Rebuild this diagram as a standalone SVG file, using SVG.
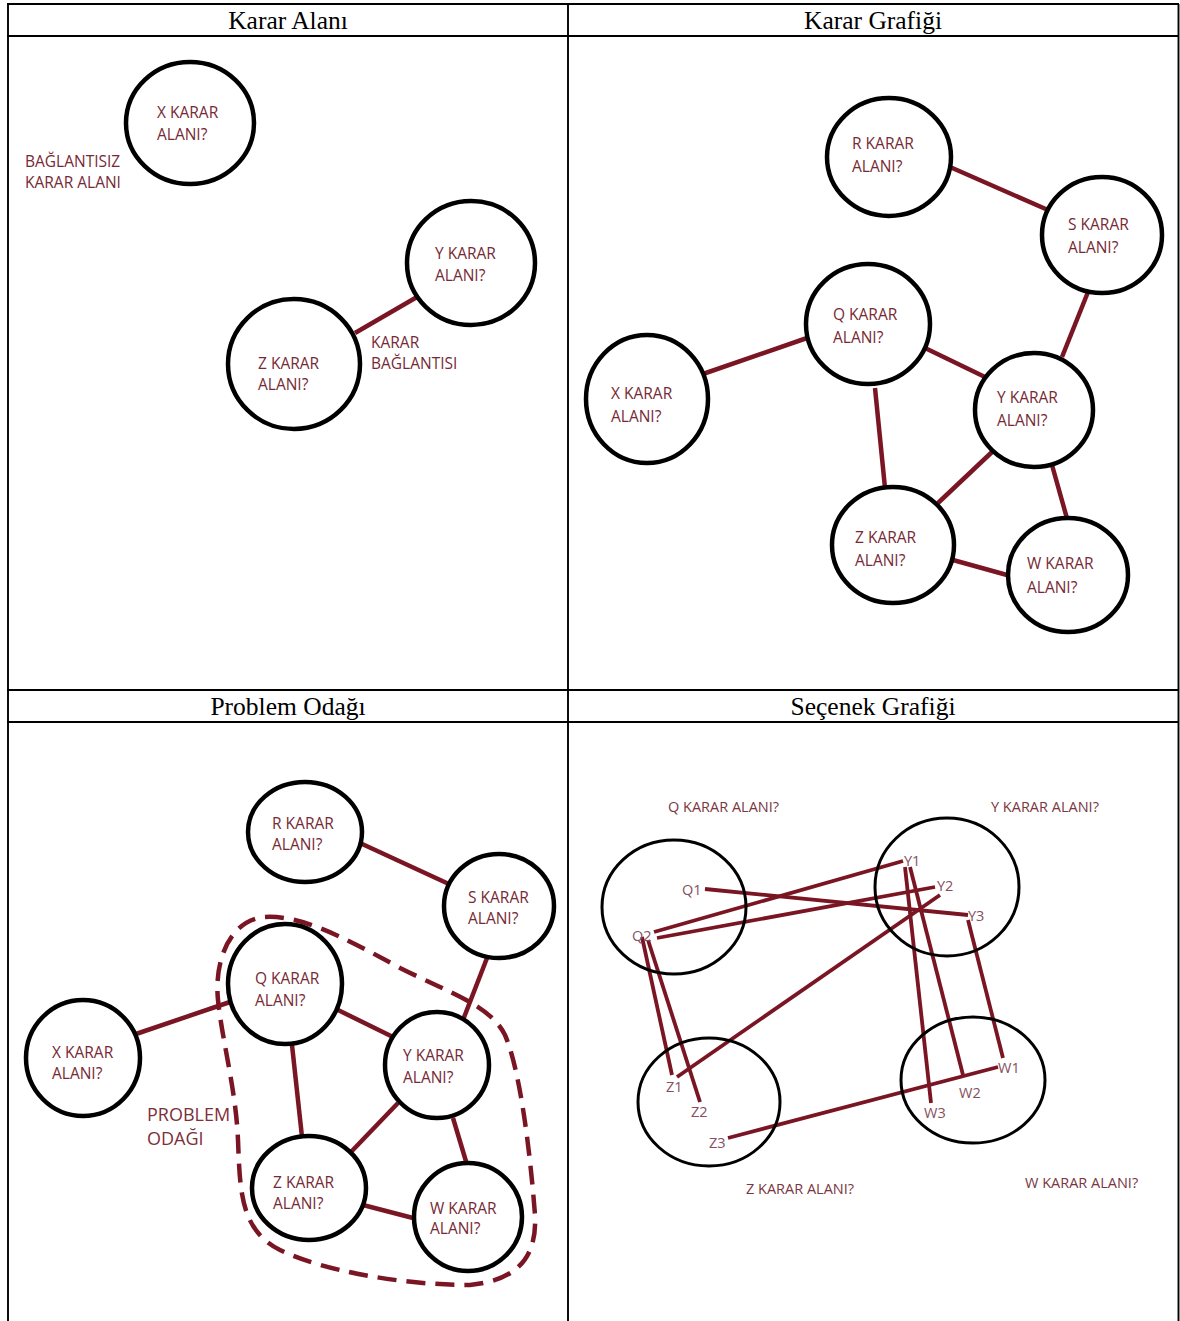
<svg xmlns="http://www.w3.org/2000/svg" width="1180" height="1321" viewBox="0 0 1180 1321">
<style>
.grid{stroke:#000;stroke-width:1.9;fill:none}
.hdr{font-family:"Liberation Serif",serif;font-size:25.5px;fill:#000;text-anchor:middle}
.node{fill:#fff;stroke:#000;stroke-width:4.5}
.node2{fill:none;stroke:#000;stroke-width:3}
.lbl{font-family:"Open Sans","Noto Sans",sans-serif;font-size:15.5px;fill:#762a35}
.big{font-family:"Open Sans","Noto Sans",sans-serif;font-size:18px;fill:#7d2f3a}
.sm{font-family:"Open Sans","Noto Sans",sans-serif;font-size:14.5px;fill:#7a3742}
.pt{font-family:"Open Sans","Noto Sans",sans-serif;font-size:14.5px;fill:#855060}
.edge{stroke:#7a1523;stroke-width:4.5;stroke-linecap:butt;fill:none}
.edge2{stroke:#7a1523;stroke-width:3.8;stroke-linecap:butt;fill:none}
.focus{stroke:#7a1523;stroke-width:4.5;fill:none;stroke-dasharray:19 10}
</style>
<rect width="1180" height="1321" fill="#fff"/>
<g id="table">
<line class="grid" x1="7" y1="4" x2="1179" y2="4"/>
<line class="grid" x1="7" y1="36" x2="1179" y2="36"/>
<line class="grid" x1="7" y1="690" x2="1179" y2="690"/>
<line class="grid" x1="7" y1="722" x2="1179" y2="722"/>
<line class="grid" x1="8" y1="4" x2="8" y2="1321"/>
<line class="grid" x1="568" y1="4" x2="568" y2="1321"/>
<line class="grid" x1="1178.5" y1="4" x2="1178.5" y2="1321"/>
<text class="hdr" x="288" y="29">Karar Alanı</text>
<text class="hdr" x="873" y="29">Karar Grafiği</text>
<text class="hdr" x="288" y="715">Problem Odağı</text>
<text class="hdr" x="873" y="715">Seçenek Grafiği</text>
</g>

<g id="connectors">
<!-- panel 1 -->
<line class="edge" x1="355" y1="333" x2="417" y2="297"/>
<!-- panel 2 -->
<line class="edge" x1="950" y1="167" x2="1048" y2="210"/>
<line class="edge" x1="1088" y1="292" x2="1062" y2="357"/>
<line class="edge" x1="925" y1="348" x2="985" y2="377"/>
<line class="edge" x1="875" y1="388" x2="885" y2="488"/>
<line class="edge" x1="992" y1="452" x2="938" y2="503"/>
<line class="edge" x1="1052" y1="465" x2="1068" y2="522"/>
<line class="edge" x1="953" y1="560" x2="1007" y2="575"/>
<line class="edge" x1="700" y1="375" x2="807" y2="338"/>
<!-- panel 3 -->
<line class="edge" x1="360" y1="843" x2="451" y2="885"/>
<line class="edge" x1="487" y1="958" x2="463" y2="1020"/>
<line class="edge" x1="338" y1="1010" x2="393" y2="1037"/>
<line class="edge" x1="292" y1="1045" x2="302" y2="1137"/>
<line class="edge" x1="398" y1="1103" x2="350" y2="1153"/>
<line class="edge" x1="453" y1="1118" x2="468" y2="1168"/>
<line class="edge" x1="363" y1="1205" x2="413" y2="1218"/>
<line class="edge" x1="133" y1="1035" x2="230" y2="1002"/>
<path class="focus" d="M265,917 C300,915 340,935 400,968 C450,993 490,1005 505,1035 C520,1070 530,1150 535,1215 C537,1255 520,1280 470,1285 C400,1285 320,1270 280,1250 C240,1230 240,1190 238,1140 C236,1090 222,1040 218,1000 C214,960 230,920 265,917 Z"/>
<!-- panel 4 -->
<line class="edge2" x1="705" y1="889" x2="968" y2="915"/>
<line class="edge2" x1="654" y1="932" x2="903" y2="861"/>
<line class="edge2" x1="657" y1="938" x2="935" y2="887"/>
<line class="edge2" x1="642" y1="937" x2="672" y2="1075"/>
<line class="edge2" x1="648" y1="940" x2="700" y2="1102"/>
<line class="edge2" x1="677" y1="1077" x2="940" y2="895"/>
<line class="edge2" x1="728" y1="1138" x2="998" y2="1067"/>
<line class="edge2" x1="905" y1="867" x2="931" y2="1103"/>
<line class="edge2" x1="910" y1="867" x2="963" y2="1075"/>
<line class="edge2" x1="968" y1="920" x2="1003" y2="1058"/>
</g>

<!-- Panel 1: Karar Alanı -->
<g id="p1-x"><ellipse class="node" cx="190" cy="123" rx="64" ry="61"/><text class="lbl" x="157" y="118">X KARAR</text><text class="lbl" x="157" y="140">ALANI?</text></g>
<g id="p1-note"><text class="lbl" x="25" y="167">BAĞLANTISIZ</text><text class="lbl" x="25" y="188">KARAR ALANI</text></g>
<g id="p1-y"><ellipse class="node" cx="471" cy="263" rx="64" ry="62"/><text class="lbl" x="435" y="259">Y KARAR</text><text class="lbl" x="435" y="281">ALANI?</text></g>
<g id="p1-z"><ellipse class="node" cx="294" cy="364" rx="66" ry="65"/><text class="lbl" x="258" y="369">Z KARAR</text><text class="lbl" x="258" y="390">ALANI?</text></g>
<g id="p1-edge-label"><text class="lbl" x="371" y="348">KARAR</text><text class="lbl" x="371" y="369">BAĞLANTISI</text></g>

<!-- Panel 2: Karar Grafiği -->
<g id="p2-r"><ellipse class="node" cx="889" cy="157" rx="62" ry="59"/><text class="lbl" x="852" y="148.5">R KARAR</text><text class="lbl" x="852" y="172">ALANI?</text></g>
<g id="p2-s"><ellipse class="node" cx="1102" cy="235" rx="60" ry="58"/><text class="lbl" x="1068" y="230">S KARAR</text><text class="lbl" x="1068" y="252.5">ALANI?</text></g>
<g id="p2-q"><ellipse class="node" cx="868" cy="324" rx="62" ry="60"/><text class="lbl" x="833" y="319.5">Q KARAR</text><text class="lbl" x="833" y="342.5">ALANI?</text></g>
<g id="p2-x"><ellipse class="node" cx="647" cy="399" rx="61" ry="64"/><text class="lbl" x="611" y="398.5">X KARAR</text><text class="lbl" x="611" y="422">ALANI?</text></g>
<g id="p2-y"><ellipse class="node" cx="1034" cy="410" rx="59" ry="57"/><text class="lbl" x="997" y="402.5">Y KARAR</text><text class="lbl" x="997" y="425.5">ALANI?</text></g>
<g id="p2-z"><ellipse class="node" cx="893" cy="545" rx="61" ry="58"/><text class="lbl" x="855" y="542.5">Z KARAR</text><text class="lbl" x="855" y="565.5">ALANI?</text></g>
<g id="p2-w"><ellipse class="node" cx="1068" cy="575" rx="60" ry="57"/><text class="lbl" x="1027" y="568.5">W KARAR</text><text class="lbl" x="1027" y="592.5">ALANI?</text></g>

<!-- Panel 3: Problem Odağı -->
<g id="p3-r"><ellipse class="node" cx="305" cy="832" rx="57" ry="50"/><text class="lbl" x="272" y="828.5">R KARAR</text><text class="lbl" x="272" y="849.5">ALANI?</text></g>
<g id="p3-s"><ellipse class="node" cx="499" cy="906" rx="55" ry="52"/><text class="lbl" x="468" y="902.5">S KARAR</text><text class="lbl" x="468" y="923.5">ALANI?</text></g>
<g id="p3-q"><ellipse class="node" cx="285" cy="984" rx="57" ry="60"/><text class="lbl" x="255" y="983.5">Q KARAR</text><text class="lbl" x="255" y="1005.5">ALANI?</text></g>
<g id="p3-x"><ellipse class="node" cx="83" cy="1058" rx="57" ry="58"/><text class="lbl" x="52" y="1057.5">X KARAR</text><text class="lbl" x="52" y="1078.5">ALANI?</text></g>
<g id="p3-y"><ellipse class="node" cx="437" cy="1065" rx="52" ry="53"/><text class="lbl" x="403" y="1060.5">Y KARAR</text><text class="lbl" x="403" y="1082.5">ALANI?</text></g>
<g id="p3-z"><ellipse class="node" cx="309" cy="1188" rx="57" ry="52"/><text class="lbl" x="273" y="1187.5">Z KARAR</text><text class="lbl" x="273" y="1208.5">ALANI?</text></g>
<g id="p3-w"><ellipse class="node" cx="468" cy="1217" rx="54" ry="54"/><text class="lbl" x="430" y="1213.5">W KARAR</text><text class="lbl" x="430" y="1233.5">ALANI?</text></g>
<g id="p3-focus-label"><text class="big" x="147" y="1120.5">PROBLEM</text><text class="big" x="147" y="1144.5">ODAĞI</text></g>

<!-- Panel 4: Seçenek Grafiği -->
<g id="p4-q"><ellipse class="node2" cx="674" cy="907" rx="72" ry="67"/><text class="sm" x="668" y="812">Q KARAR ALANI?</text><text class="pt" x="682" y="895">Q1</text><text class="pt" x="632" y="941">Q2</text></g>
<g id="p4-y"><ellipse class="node2" cx="947" cy="887" rx="72" ry="69"/><text class="sm" x="991" y="812">Y KARAR ALANI?</text><text class="pt" x="904" y="866">Y1</text><text class="pt" x="937" y="891">Y2</text><text class="pt" x="968" y="921">Y3</text></g>
<g id="p4-z"><ellipse class="node2" cx="709" cy="1102" rx="71" ry="64"/><text class="sm" x="746" y="1194">Z KARAR ALANI?</text><text class="pt" x="666" y="1092">Z1</text><text class="pt" x="691" y="1117">Z2</text><text class="pt" x="709" y="1148">Z3</text></g>
<g id="p4-w"><ellipse class="node2" cx="973" cy="1080" rx="72" ry="63"/><text class="sm" x="1025" y="1188">W KARAR ALANI?</text><text class="pt" x="998" y="1073">W1</text><text class="pt" x="959" y="1098">W2</text><text class="pt" x="924" y="1118">W3</text></g>
</svg>
